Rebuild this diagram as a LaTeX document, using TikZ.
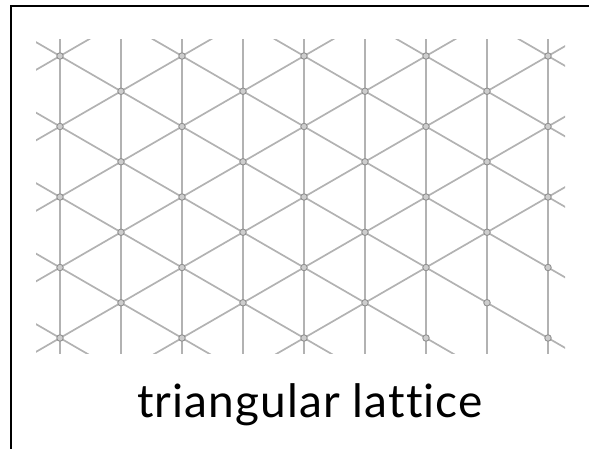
\documentclass[tikz,border=0pt]{standalone}
\usepackage{fontspec}
\setmainfont[Ligatures={NoCommon,NoRare,NoDiscretionary},LetterSpace=2.4]{Lato}
\definecolor{latline}{RGB}{178,178,178}
\definecolor{latnodefill}{RGB}{205,205,205}
\definecolor{latnodedraw}{RGB}{145,145,145}
\tikzset{
  latticeline/.style={draw=latline, line width=1.7pt},
  site/.style={circle, draw=latnodedraw, fill=latnodefill, line width=0.9pt, minimum size=6.5pt, inner sep=0pt},
  frameline/.style={draw=black, line width=2.2pt},
  caption/.style={font=\fontsize{46}{52}\selectfont, anchor=base, inner sep=0pt}
}
\begin{document}
\begin{tikzpicture}[x=1pt,y=-1pt]
\useasboundingbox (0,0) rectangle (589,449);
\pgfmathsetmacro{\hs}{61}
\pgfmathsetmacro{\vs}{35.25}
\pgfmathsetmacro{\sl}{\vs/\hs}
\begin{scope}
  \clip (36,40) rectangle (565,353);
  % vertical lines
  \foreach \k in {-1,...,9} {
    \draw[latticeline] ({60+\hs*\k},0) -- ({60+\hs*\k},449);
  }
  % diagonal lines
  \foreach \m in {-6,...,6} {
    \draw[latticeline] (0,{56-\sl*60+2*\vs*\m}) -- (600,{56+\sl*540+2*\vs*\m});
    \draw[latticeline] (0,{56+\sl*60+2*\vs*\m}) -- (600,{56-\sl*540+2*\vs*\m});
  }
  % lattice sites
  \foreach \r in {0,2,4,6,8} {
    \foreach \j in {0,...,4} {
      \node[site] (s-\r-\j) at ({60+2*\hs*\j},{56+\vs*\r}) {};
    }
  }
  \foreach \r in {1,3,5,7} {
    \foreach \j in {0,...,3} {
      \node[site] (s-\r-\j) at ({60+\hs+2*\hs*\j},{56+\vs*\r}) {};
    }
  }
\end{scope}
% frame (right and bottom edges lie outside the picture)
\draw[frameline] (11,470) -- (11,6) -- (610,6);
\node[caption] (label) at (310,417) {triangular lattice};
\end{tikzpicture}
\end{document}
